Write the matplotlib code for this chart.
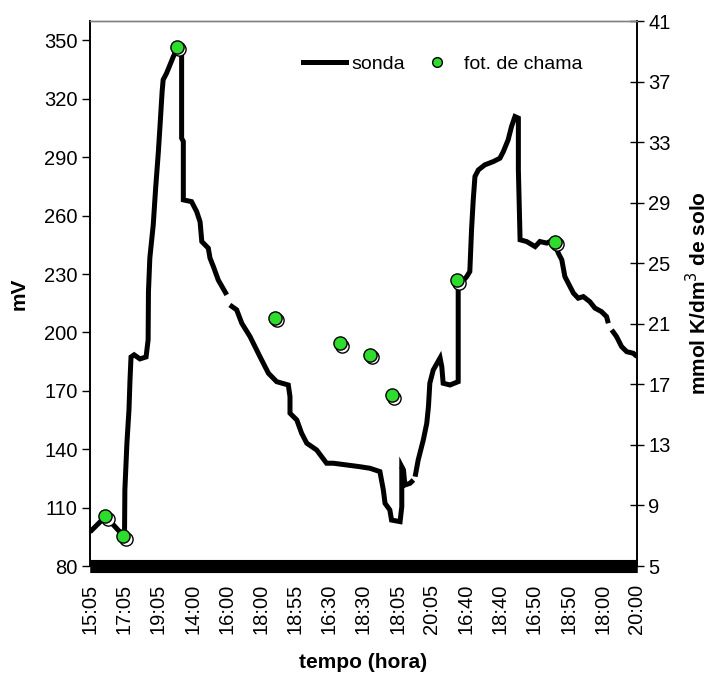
import numpy as np
import matplotlib
matplotlib.use("Agg")
import matplotlib.pyplot as plt
from matplotlib.lines import Line2D
from matplotlib.transforms import offset_copy

plt.rcParams['font.family'] = ['Liberation Sans', 'DejaVu Sans']

# time axis labels (one per category slot)
hours = ['15:05', '17:05', '19:05', '14:00', '16:00', '18:00', '18:55', '16:30',
         '18:30', '18:05', '20:05', '16:40', '18:40', '16:50', '18:50', '18:00',
         '20:00']

# probe reading (mV); NaN marks breaks in the record
probe_t = [0.00, 0.44, 0.58, 0.82, 0.97, 1.01, 1.02, 1.08, 1.14, 1.17, 1.20, 1.29,
           1.46, 1.64, 1.70, 1.71, 1.75, 1.85, 1.92, 2.00, 2.05, 2.11, 2.14, 2.24,
           2.34, 2.44, 2.54, 2.68, 2.68, 2.73, 2.73, 2.97, 3.12, 3.22, 3.27, 3.46,
           3.51, 3.61, 3.75, 4.00, 4.04,
           4.09, 4.29, 4.44, 4.68, 4.97, 5.22, 5.46, 5.80, 5.85, 5.85, 6.05, 6.19,
           6.34, 6.63, 6.92, 7.12, 7.51, 7.90, 8.19, 8.48, 8.58, 8.63, 8.77, 8.82,
           9.07, 9.12, 9.12, 9.17, 9.21, 9.36, 9.46, 9.48,
           9.51, 9.60, 9.75, 9.85, 9.90, 9.94, 10.04, 10.24, 10.29, 10.33, 10.53,
           10.77, 10.77, 11.02, 11.11, 11.16, 11.21, 11.26, 11.36, 11.55, 11.80,
           11.99, 12.09, 12.23, 12.33, 12.43, 12.53, 12.53, 12.58, 12.77, 13.02,
           13.16, 13.36, 13.55, 13.70, 13.80, 13.89, 14.04, 14.14, 14.28, 14.43,
           14.62, 14.77, 14.96, 15.11, 15.16, 15.20,
           15.26, 15.40, 15.55, 15.70, 15.89, 16.00]
probe_mv = [97.5, 105.2, 103.1, 98.5, 95.9, 97.0, 119.1, 143.2, 160.2, 175.6, 187.4,
            188.5, 186.4, 187.4, 196.2, 221.0, 238.2, 255.3, 274.1, 292.9, 306.7,
            323.8, 329.8, 333.2, 337.5, 341.8, 345.7, 346.8, 299.8, 298.1, 268.1,
            267.2, 262.1, 256.8, 246.7, 243.3, 238.2, 233.8, 227.0, 219.3, np.nan,
            214.1, 211.6, 204.7, 197.9, 187.6, 179.0, 174.7, 173.0, 167.0, 158.5,
            155.0, 148.2, 143.1, 139.6, 132.8, 132.8, 131.9, 131.0, 130.2, 128.5,
            119.1, 112.2, 108.8, 103.6, 102.8, 110.5, 131.0, 129.3, 121.6, 122.5,
            124.2, np.nan,
            125.9, 134.5, 144.8, 153.3, 161.9, 173.9, 180.7, 186.9, 182.4, 173.9,
            173.0, 174.7, 223.6, 228.7, 231.3, 252.7, 268.1, 280.1, 283.5, 286.1,
            287.8, 289.5, 292.9, 298.9, 305.8, 310.9, 310.1, 283.5, 247.6, 246.7,
            244.1, 246.7, 245.9, 247.6, 240.7, 237.3, 228.7, 223.6, 220.2, 217.6,
            218.4, 215.8, 212.5, 210.7, 208.1, 204.7, np.nan,
            201.3, 197.9, 192.7, 190.1, 189.3, 187.6]

# flame photometry (mmol K/dm3 of soil)
flame_t = [0.44, 0.97, 2.54, 5.41, 7.31, 8.19, 8.83, 10.73, 13.60]
flame_k = [8.28, 6.95, 39.3, 21.4, 19.7, 18.97, 16.29, 23.86, 26.41]

fig = plt.figure(figsize=(7.1, 6.74), dpi=100)
ax = fig.add_axes([90 / 710, 1 - 566 / 674, 547 / 710, 545 / 674])
ax2 = ax.twinx()

ax.plot(probe_t, probe_mv, color='black', lw=3.6, solid_joinstyle='miter',
        solid_capstyle='butt', zorder=3)

# markers with a small white drop shadow
shadow = offset_copy(ax2.transData, fig=fig, x=2.5, y=-2.5, units='dots')
ax2.plot(flame_t, flame_k, 'o', ms=9.5, mfc='white', mec='black', mew=1.0,
         transform=shadow, zorder=4)
ax2.plot(flame_t, flame_k, 'o', ms=9.5, mfc='#2edc2e', mec='black', mew=1.0,
         zorder=5)

ax.set_xlim(0, 16)
ax.set_ylim(80, 360)
ax.set_yticks(np.arange(80, 351, 30))
ax2.set_ylim(5, 41)
ax2.set_yticks(np.arange(5, 42, 4))
ax.set_xticks(np.arange(len(hours)))
ax.set_xticklabels(hours, rotation=90)

for a in (ax, ax2):
    a.spines['top'].set_color('#808080')
    a.spines['top'].set_linewidth(1.0)
    a.spines['left'].set_linewidth(1.2)
    a.spines['right'].set_linewidth(1.2)
    a.spines['bottom'].set_linewidth(9.4)
    a.spines['bottom'].set_capstyle('butt')

ax.tick_params(axis='x', length=0, pad=13, labelsize=14.5)
ax.tick_params(axis='y', direction='out', length=6, width=1, labelsize=14.5, pad=3)
ax2.tick_params(axis='y', direction='inout', length=10, width=1, labelsize=14.5, pad=3)

ax.set_ylabel('mV', fontsize=15, fontweight='bold')
ax.yaxis.set_label_coords(-0.113, 0.5)
ax2.set_ylabel('mmol K/dm$^3$ de solo', fontsize=15, fontweight='bold')
ax2.yaxis.set_label_coords(1.088, 0.5)
ax.set_xlabel('tempo (hora)', fontsize=15, fontweight='bold')
ax.xaxis.set_label_coords(0.5, -0.160)

handles = [Line2D([], [], color='black', lw=3.6),
           Line2D([], [], ls='none', marker='o', ms=7, mfc='#2edc2e', mec='black')]
ax.legend(handles, ['sonda', 'fot. de chama'], loc='center left',
          bbox_to_anchor=(0.372, 0.921), ncol=2, frameon=False, fontsize=14,
          handlelength=2.2, handletextpad=0.3, columnspacing=0.5, borderpad=0)

fig.savefig('out.png', dpi=100)
